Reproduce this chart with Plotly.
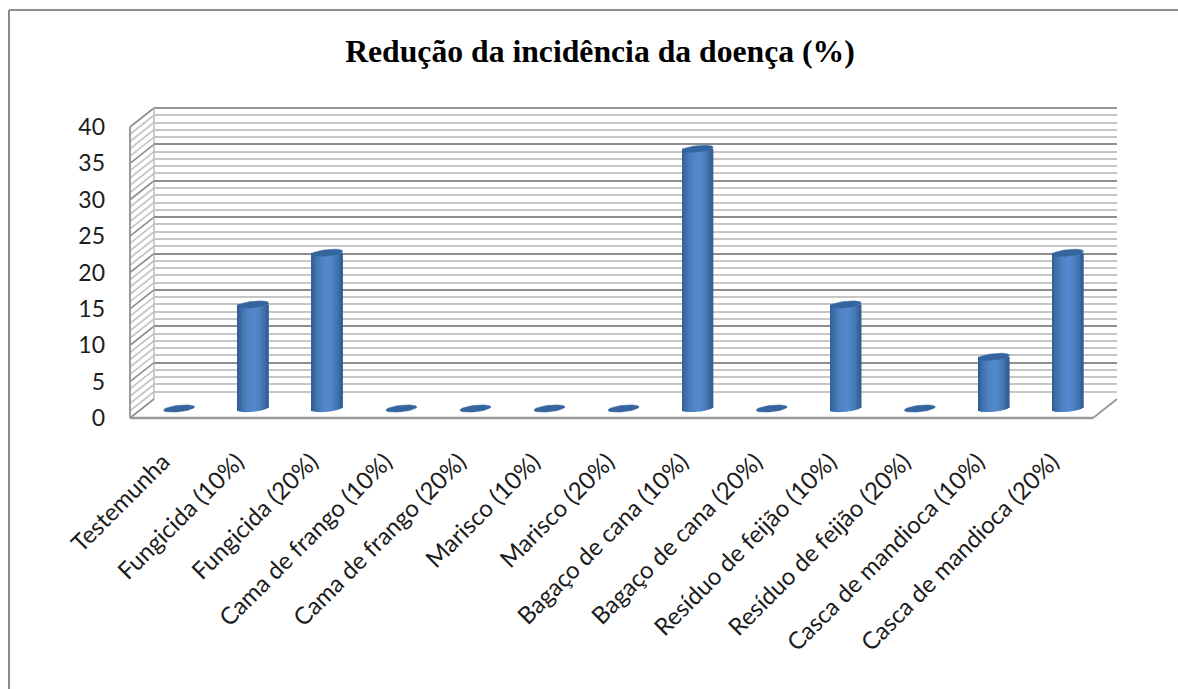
import math
import plotly.graph_objects as go

categories = ["Testemunha", "Fungicida (10%)", "Fungicida (20%)", "Cama de frango (10%)",
              "Cama de frango (20%)", "Marisco (10%)", "Marisco (20%)", "Bagaço de cana (10%)",
              "Bagaço de cana (20%)", "Resíduo de feijão (10%)", "Resíduo de feijão (20%)",
              "Casca de mandioca (10%)", "Casca de mandioca (20%)"]
values = [0, 14.3, 21.4, 0, 0, 0, 0, 35.7, 0, 14.3, 0, 7.1, 21.4]
y_ticks = [0, 5, 10, 15, 20, 25, 30, 35, 40]
title_text = "Redução da incidência da doença (%)"

W, H = 1178, 689
# pixel geometry of the pseudo-3D box
FX0, FX1, FY0, FY40 = 130, 1093, 418, 127      # front plane
DX, DY = 24, -19                                # depth offset front -> back
N = len(categories)
PX_PER_VAL = (FY0 - FY40) / 40
PX_PER_CAT = (FX1 - FX0) / N


def xp(px):
    return px / W


def yp(py):
    return 1 - py / H


def ypx(v, depth=0.0):
    return FY0 - v * PX_PER_VAL + DY * depth


fig = go.Figure()

# --- side wall / floor / frame (paper-space decoration)
shapes = []


def line(x0, y0, x1, y1, color, width, layer="below"):
    shapes.append(dict(type="line", xref="paper", yref="paper", layer=layer,
                       x0=xp(x0), y0=yp(y0), x1=xp(x1), y1=yp(y1),
                       line=dict(color=color, width=width)))


MAJOR, MINOR = "#8e8e8e", "#c6c6c6"
for v in range(0, 41):
    major = v % 5 == 0
    line(FX0, ypx(v), FX0 + DX, ypx(v, 1), MAJOR if major else MINOR, 1.6 if major else 1.8)
line(FX0, FY0, FX0, FY40, "#9a9a9a", 2)
line(FX0 + DX, ypx(0, 1), FX0 + DX, ypx(40, 1), "#bdbdbd", 1.5)
line(FX1, FY0, FX1 + DX, ypx(0, 1), "#9a9a9a", 2)
line(FX0, FY0, FX1, FY0, "#9a9a9a", 2.5)
line(FX0 + DX, ypx(40, 1), FX1 + DX, ypx(40, 1), "#969696", 2, layer="above")
# chart frame
line(9, 10, 1178, 10, "#8c8c8c", 2)
line(9, 10, 9, 689, "#8c8c8c", 2)

# --- back wall grid (subplot xy, drawn first)
fig.add_trace(go.Scatter(x=[0], y=[0], mode="none", xaxis="x", yaxis="y", hoverinfo="skip", showlegend=False))

# --- cylinders: vertical strips for the horizontal shading (subplot x2y2)
R_PX = 15.5          # cylinder radius
ELL_PX = 3.2         # ellipse semi-minor
TILT_PX = 1.6        # rise of ellipse at the right edge
STRIPS = 18
DARK, LIGHT = (47, 91, 143), (83, 137, 204)


def strip_color(t):
    # t in -1..1, brightest a little right of the centre
    peak = 0.05
    s = (t - peak) / (1 - peak) if t > peak else (peak - t) / (1 + peak)
    k = min(1.0, s ** 1.8)
    c = [round(LIGHT[i] + (DARK[i] - LIGHT[i]) * k) for i in range(3)]
    return "rgb(%d,%d,%d)" % tuple(c)


xcat = list(range(N))
for j in range(STRIPS):
    t = -1 + (j + 0.5) * 2 / STRIPS
    low_px = ELL_PX * math.sqrt(max(0, 1 - t * t)) - TILT_PX * t  # below axis zero
    low = -low_px / PX_PER_VAL
    w = 2 * R_PX / STRIPS / PX_PER_CAT
    fig.add_trace(go.Bar(x=xcat, y=[v - low if v > 0 else 0 for v in values],
                         base=[low if v > 0 else 0 for v in values],
                         width=w * 1.15, offset=t * R_PX / PX_PER_CAT - w / 2,
                         marker=dict(color=strip_color(t), line=dict(width=0)),
                         xaxis="x2", yaxis="y2", showlegend=False, hoverinfo="skip"))

# elliptical caps
cap_x, cap_y = [], []
for i, v in enumerate(values):
    for k in range(41):
        a = 2 * math.pi * k / 40
        ex, ey = math.cos(a), math.sin(a)
        cap_x.append(i + ex * R_PX / PX_PER_CAT)
        cap_y.append(v + (ey * ELL_PX + ex * TILT_PX) / PX_PER_VAL)
    cap_x.append(None)
    cap_y.append(None)
fig.add_trace(go.Scatter(x=cap_x, y=cap_y, mode="lines", fill="toself", fillcolor="#34659f",
                         line=dict(width=0.5, color="#34659f"), xaxis="x2", yaxis="y2",
                         showlegend=False, hoverinfo="skip"))

# --- front axes carrying the labels (subplot x3y3)
fig.add_trace(go.Scatter(x=xcat, y=values, mode="none", xaxis="x3", yaxis="y3",
                         hoverinfo="skip", showlegend=False))

BAR_Y_LOW, BAR_Y_HIGH = -2, 41
LABEL_SHIFT = 4
FONT = "Lato, 'Open Sans', sans-serif"
fig.update_layout(
    width=W, height=H, autosize=False,
    margin=dict(l=0, r=0, t=0, b=0, autoexpand=False),
    paper_bgcolor="white", plot_bgcolor="rgba(0,0,0,0)",
    barmode="overlay", showlegend=False, shapes=shapes,
    title=dict(text="<b>%s</b>" % title_text, x=600 / W, xanchor="center", y=yp(51), yanchor="middle",
               font=dict(family="'Liberation Serif', serif", size=31.7, color="black")),
    # back wall
    xaxis=dict(domain=[xp(FX0 + DX), xp(FX1 + DX)], range=[0, 1], visible=False, anchor="y"),
    yaxis=dict(domain=[yp(ypx(0, 1)), yp(ypx(40, 1))], range=[0, 40], anchor="x",
               showticklabels=False, ticks="", showline=False, zeroline=False,
               showgrid=True, dtick=5, gridcolor=MAJOR, gridwidth=1.6,
               minor=dict(dtick=1, showgrid=True, gridcolor=MINOR, gridwidth=1.8)),
    # cylinders, half way through the depth
    xaxis2=dict(domain=[xp(FX0 + DX / 2), xp(FX1 + DX / 2)], range=[-0.5, N - 0.5],
                visible=False, anchor="y2"),
    yaxis2=dict(domain=[yp(ypx(BAR_Y_LOW, 0.5)), yp(ypx(BAR_Y_HIGH, 0.5))],
                range=[BAR_Y_LOW, BAR_Y_HIGH], visible=False, anchor="x2"),
    # front plane, labels
    xaxis3=dict(domain=[xp(FX0 - LABEL_SHIFT), xp(FX1 - LABEL_SHIFT)], range=[-0.5, N - 0.5], anchor="y3",
                tickmode="array", tickvals=xcat, ticktext=categories, tickangle=-45,
                ticks="", showgrid=False, zeroline=False, showline=False, automargin=False,
                ticklabelstandoff=24,
                tickfont=dict(family=FONT, size=24, color="#1c1c1c")),
    yaxis3=dict(domain=[yp(FY0), yp(FY40)], range=[0, 40], anchor="x3",
                tickmode="array", tickvals=y_ticks, ticks="", showgrid=False,
                zeroline=False, showline=False, automargin=False, ticklabelstandoff=20,
                tickfont=dict(family=FONT, size=23, color="#1c1c1c")),
)

fig.write_html("out.html", post_script="document.body.style.margin='0';document.body.style.overflow='hidden';",
               config={"displayModeBar": False})
